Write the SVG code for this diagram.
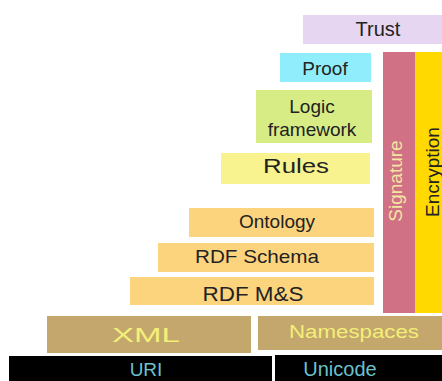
<svg xmlns="http://www.w3.org/2000/svg" width="442" height="381" viewBox="0 0 442 381">
<style>
text{font-family:"Liberation Sans",Arial,sans-serif;text-anchor:middle;fill:#222}
.or{fill:#fdd47e}
.tan{fill:#c3a76c}
.blk{fill:#000}
.ty{fill:#f3ef78}
.tc{fill:#6cc2cc}
</style>
<rect width="442" height="381" fill="#fff"/>
<g id="trust"><rect x="303" y="15" width="139" height="29" fill="#e6d6f1"/><text x="378" y="36" font-size="20">Trust</text></g>
<g id="proof"><rect x="280" y="53" width="91" height="29" fill="#90eefc"/><text x="325" y="75" font-size="19">Proof</text></g>
<g id="logic"><rect x="256" y="90" width="116" height="53" fill="#d8ec86"/><text x="312" y="113" font-size="19">Logic</text><text x="312" y="136" font-size="19">framework</text></g>
<g id="rules"><rect x="221" y="153" width="149" height="31" fill="#f8f38e"/><text x="296" y="173" font-size="21" textLength="66" lengthAdjust="spacingAndGlyphs">Rules</text></g>
<g id="ontology"><rect class="or" x="189" y="208" width="185" height="29"/><text x="277" y="228" font-size="19">Ontology</text></g>
<g id="rdfschema"><rect class="or" x="158" y="243" width="216" height="29"/><text x="257" y="263" font-size="19" textLength="124" lengthAdjust="spacingAndGlyphs">RDF Schema</text></g>
<g id="rdfms"><rect class="or" x="130" y="277" width="244" height="28"/><text x="253" y="301" font-size="20" textLength="101" lengthAdjust="spacingAndGlyphs">RDF M&amp;S</text></g>
<g id="signature"><rect x="383" y="52" width="32" height="261" fill="#d17185"/><text transform="translate(402,181) rotate(-90)" font-size="19" style="fill:#f2e6a2">Signature</text></g>
<g id="encryption"><rect x="415" y="52" width="27" height="261" fill="#ffd900"/><text transform="translate(439,172) rotate(-90)" font-size="19">Encryption</text></g>
<g id="xml"><rect class="tan" x="47" y="316" width="204" height="37"/><text class="ty" x="146" y="342" font-size="21" textLength="68" lengthAdjust="spacingAndGlyphs">XML</text></g>
<g id="namespaces"><rect class="tan" x="258" y="316" width="184" height="34"/><text class="ty" x="354" y="338" font-size="18" textLength="130" lengthAdjust="spacingAndGlyphs">Namespaces</text></g>
<g id="uri"><rect class="blk" x="9" y="356" width="263" height="25"/><text class="tc" x="146" y="376" font-size="19">URI</text></g>
<g id="unicode"><rect class="blk" x="275" y="355" width="167" height="26"/><text class="tc" x="340" y="376" font-size="20">Unicode</text></g>
<g id="connectors"></g>
</svg>
